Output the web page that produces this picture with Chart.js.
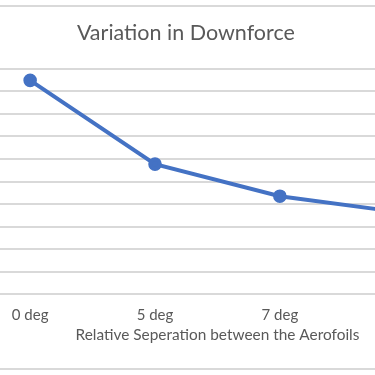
<!DOCTYPE html>
<html>
<head>
<meta charset="utf-8">
<script src="https://cdn.jsdelivr.net/npm/chart.js@4"></script>
<style>
  html, body { margin: 0; padding: 0; background: #fff; overflow: hidden; width: 375px; height: 375px; }
  #box {
    position: absolute; left: -103px; top: 5px;
    width: 581px; height: 365px; box-sizing: border-box;
    border: 2px solid #d9d9d9; background: #fff;
  }
</style>
</head>
<body>
<div id="box"><canvas id="myChart"></canvas></div>
<script>
const labels = ["0 deg", "5 deg", "7 deg", "10 deg"];
const downforce = [948, 577, 435, 361];
const yMin = 0;
const yMax = 1000;
const yStep = 100;

const grey = '#595959';
const fontFamily = 'Lato, "Open Sans", sans-serif';

const ctx = document.getElementById('myChart');

new Chart(ctx, {
    type: 'line',
    data: {
        labels: labels,
        datasets: [{
            label: 'Downforce',
            data: downforce,
            borderColor: '#4472C4',
            backgroundColor: '#4472C4',
            borderWidth: 4,
            pointRadius: 4.8,
            pointHoverRadius: 4.8,
            tension: 0
        }]
    },
    options: {
        responsive: true,
        maintainAspectRatio: false,
        animation: false,
        layout: { padding: { left: 0, right: 3.3, top: 0, bottom: 0 } },
        plugins: {
            legend: { display: false },
            tooltip: { enabled: false },
            title: {
                display: true,
                text: 'Variation in Downforce',
                color: grey,
                font: { family: fontFamily, size: 21.5, weight: 'normal' },
                padding: { top: 13.6, bottom: 22.2 }
            }
        },
        scales: {
            x: {
                offset: true,
                grid: { display: false, drawTicks: false },
                border: { display: false },
                ticks: {
                    color: grey,
                    padding: 11.6,
                    font: { family: fontFamily, size: 15 }
                },
                title: {
                    display: true,
                    text: 'Relative Seperation between the Aerofoils',
                    color: grey,
                    font: { family: fontFamily, size: 15.4 },
                    padding: { top: 0, bottom: 24 }
                },
                afterFit: function (scale) {
                    scale.height = 73.6;
                }
            },
            y: {
                min: yMin,
                max: yMax,
                grid: { color: '#d9d9d9', lineWidth: 2, drawTicks: false },
                border: { display: false },
                ticks: {
                    stepSize: yStep,
                    color: grey,
                    padding: 8,
                    font: { family: fontFamily, size: 15 }
                },
                afterFit: function (scale) {
                    scale.width = 68.7;
                }
            }
        }
    }
});
</script>
</body>
</html>
